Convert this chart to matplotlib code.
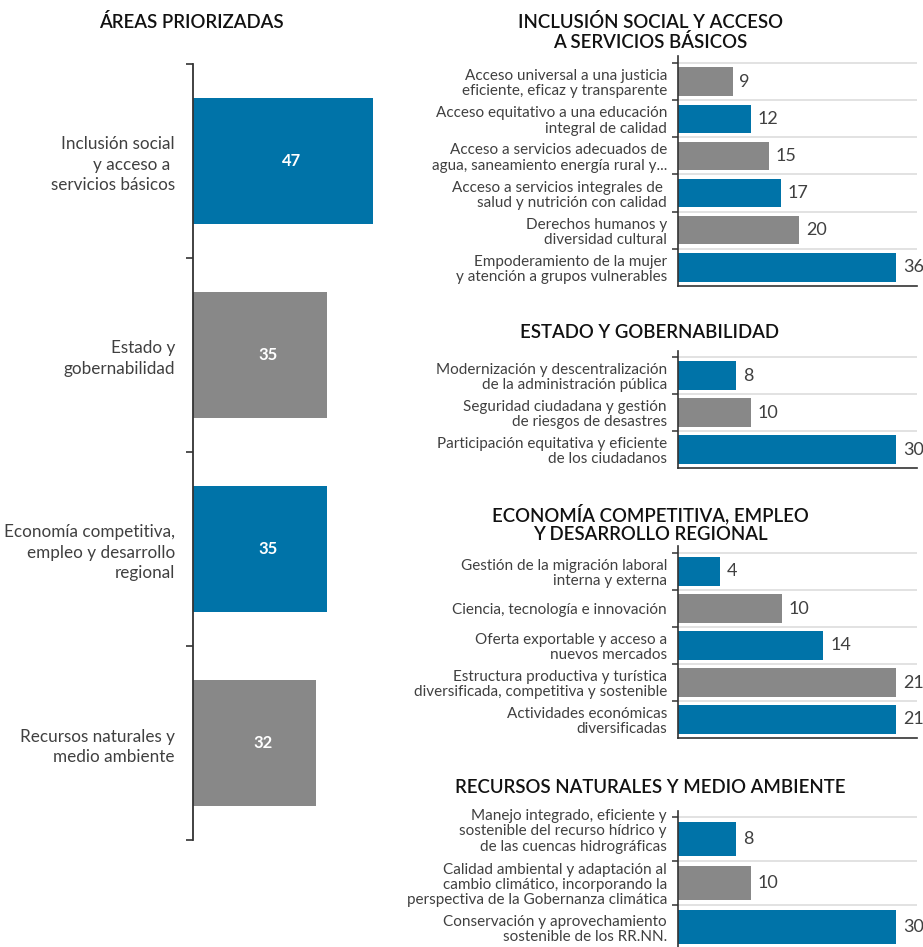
import matplotlib
matplotlib.use("Agg")
import matplotlib.pyplot as plt

plt.rcParams['font.family'] = ['Lato', 'DejaVu Sans']

BLUE = '#0073a8'
GRAY = '#888888'
TEXT = '#404040'

# main areas
areas = ['Inclusión social\ny acceso a \nservicios básicos', 'Estado y\ngobernabilidad',
         'Economía competitiva,\nempleo y desarrollo\nregional', 'Recursos naturales y\nmedio ambiente']
area_values = [47, 35, 35, 32]
area_colors = [BLUE, GRAY, BLUE, GRAY]

# sub-areas per panel
inclusion_labels = ['Acceso universal a una justicia\neficiente, eficaz y transparente',
                    'Acceso equitativo a una educación\nintegral de calidad',
                    'Acceso a servicios adecuados de\nagua, saneamiento energía rural y...',
                    'Acceso a servicios integrales de \nsalud y nutrición con calidad',
                    'Derechos humanos y\ndiversidad cultural',
                    'Empoderamiento de la mujer\ny atención a grupos vulnerables']
inclusion_values = [9, 12, 15, 17, 20, 36]
inclusion_colors = [GRAY, BLUE, GRAY, BLUE, GRAY, BLUE]

estado_labels = ['Modernización y descentralización\nde la administración pública',
                 'Seguridad ciudadana y gestión\nde riesgos de desastres',
                 'Participación equitativa y eficiente\nde los ciudadanos']
estado_values = [8, 10, 30]
estado_colors = [BLUE, GRAY, BLUE]

economia_labels = ['Gestión de la migración laboral\ninterna y externa',
                   'Ciencia, tecnología e innovación',
                   'Oferta exportable y acceso a\nnuevos mercados',
                   'Estructura productiva y turística\ndiversificada, competitiva y sostenible',
                   'Actividades económicas\ndiversificadas']
economia_values = [4, 10, 14, 21, 21]
economia_colors = [BLUE, GRAY, BLUE, GRAY, BLUE]

recursos_labels = ['Manejo integrado, eficiente y\nsostenible del recurso hídrico y\nde las cuencas hidrográficas',
                   'Calidad ambiental y adaptación al\ncambio climático, incorporando la\nperspectiva de la Gobernanza climática',
                   'Conservación y aprovechamiento\nsostenible de los RR.NN.']
recursos_values = [8, 10, 30]
recursos_colors = [BLUE, GRAY, BLUE]

titles = ['INCLUSIÓN SOCIAL Y ACCESO\nA SERVICIOS BÁSICOS', 'ESTADO Y GOBERNABILIDAD',
          'ECONOMÍA COMPETITIVA, EMPLEO\nY DESARROLLO REGIONAL', 'RECURSOS NATURALES Y MEDIO AMBIENTE']

W, H = 923, 947
fig = plt.figure(figsize=(W / 100, H / 100), dpi=100)


def px_axes(x0, x1, y0, y1):
    return fig.add_axes([x0 / W, 1 - y1 / H, (x1 - x0) / W, (y1 - y0) / H])


# left panel
ax = px_axes(193, 400, 64, 840)
n = len(areas)
ax.barh(range(n), area_values, height=0.65, color=area_colors)
ax.set_ylim(n - 0.5, -0.5)
ax.set_xlim(0, 54)
for sp in ['top', 'right', 'bottom']:
    ax.spines[sp].set_visible(False)
ax.spines['left'].set_color('#333333')
ax.spines['left'].set_linewidth(1.3)
ax.set_xticks([])
ax.set_yticks([i - 0.5 for i in range(n + 1)])
ax.set_yticklabels([])
ax.tick_params(axis='y', which='major', length=5, width=1.2, color='#333333')
ax.set_yticks(range(n), minor=True)
ax.set_yticklabels(areas, minor=True, fontsize=12.3, color=TEXT, linespacing=1.35)
ax.tick_params(axis='y', which='minor', length=0, pad=13)
for i, v in enumerate(area_values):
    ax.annotate(str(v), (v / 2, i), xytext=(6, 0), textcoords='offset points',
                ha='center', va='center', color='white', fontsize=12, fontweight='bold')
fig.text(191 / W, 1 - 22 / H, 'ÁREAS PRIORIZADAS', ha='center', va='center',
         fontsize=13.4, color='#111111', fontweight='semibold')

# right panels: (labels, values, colors, top gridline y, bottom y, title y, label shift)
panels = [
    (inclusion_labels, inclusion_values, inclusion_colors, 63, 286, 32, 0),
    (estado_labels, estado_values, estado_colors, 357, 468, 333, 0),
    (economia_labels, economia_values, economia_colors, 553, 738, 523, 0),
    (recursos_labels, recursos_values, recursos_colors, 817, 949, 787, -0.22),
]

for (labels, values, colors, ytop, ybot, ty, shift), title in zip(panels, titles):
    n = len(values)
    band = (ybot - ytop) / n
    extra = 6.5 / band
    ax = px_axes(678, 917, ytop - 6.5, ybot)
    ax.barh(range(n), values, height=0.76, color=colors, zorder=2)
    ax.set_ylim(n - 0.5, -0.5 - extra)
    ax.set_xlim(0, max(values) * 239 / 218)
    for sp in ['top', 'right']:
        ax.spines[sp].set_visible(False)
    for sp in ['left', 'bottom']:
        ax.spines[sp].set_color('#333333')
        ax.spines[sp].set_linewidth(1.2)
        ax.spines[sp].set_zorder(3)
    ax.set_xticks([])
    ax.set_yticks([i - 0.5 for i in range(n)])
    ax.set_yticklabels([])
    ax.tick_params(axis='y', which='major', length=4, width=1.1, color='#333333')
    ax.grid(axis='y', which='major', color='#dddddd', linewidth=1.2, zorder=0)
    ax.set_axisbelow(True)
    # first label of a panel with tall text sits a little higher
    ax.set_yticks([i + (shift if i == 0 else 0) for i in range(n)], minor=True)
    ax.set_yticklabels(labels, minor=True, fontsize=11, color=TEXT, linespacing=1.12)
    ax.tick_params(axis='y', which='minor', length=0, pad=8)
    for i, v in enumerate(values):
        ax.annotate(str(v), (v, i), xytext=(5, 0), textcoords='offset points',
                    ha='left', va='center', color=TEXT, fontsize=13,
                    annotation_clip=False)
    fig.text(650 / W, 1 - ty / H, title, ha='center', va='center', fontsize=13.4,
             color='#111111', fontweight='semibold', linespacing=1.15)

fig.savefig('out.png', dpi=100)
